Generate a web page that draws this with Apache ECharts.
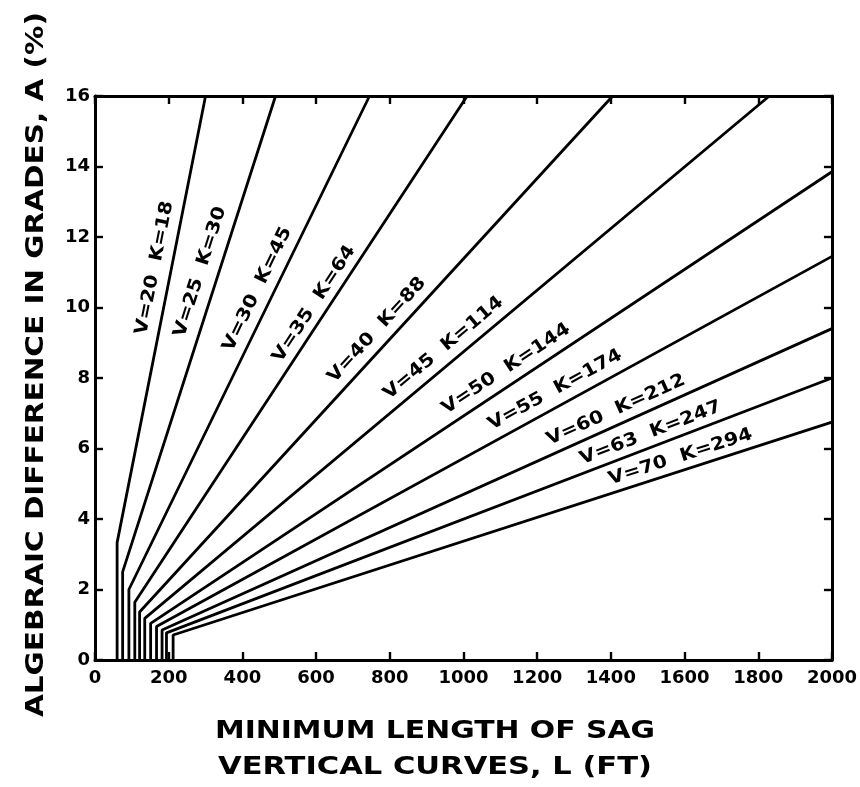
<!DOCTYPE html>
<html><head><meta charset="utf-8">
<script src="https://cdn.jsdelivr.net/npm/echarts@6/dist/echarts.min.js"></script>
<style>html,body{margin:0;padding:0;background:#fff}#c{width:860px;height:787px}</style>
</head><body><div id="c"></div>
<script>
// ---- data ----
const speedsV   = [20, 25, 30, 35, 40, 45, 50, 55, 60, 63, 70];
const kValues   = [18, 30, 45, 64, 88, 114, 144, 174, 212, 247, 294];
const minLength = [60, 75, 92, 108, 121, 135, 151, 167, 182, 194, 212];   // vertical leg (ft)
const kneeA     = [3.33, 2.5, 2.0, 1.64, 1.36, 1.18, 1.04, 0.95, 0.85, 0.77, 0.71];
const endL      = [300, 490, 745, 1010, 1405, 1830, 2000, 2000, 2000, 2000, 2000];
const endA      = [16, 16, 16, 16, 16, 16, 13.85, 11.45, 9.4, 8.0, 6.75];
const xTicks    = [0, 200, 400, 600, 800, 1000, 1200, 1400, 1600, 1800, 2000];
const yTicks    = [0, 2, 4, 6, 8, 10, 12, 14, 16];
const xTitle1 = 'MINIMUM LENGTH OF SAG';
const xTitle2 = 'VERTICAL CURVES, L (FT)';
const yTitle  = 'ALGEBRAIC DIFFERENCE IN GRADES, A (%)';

// ---- layout (label anchor points in axis units) ----
const labelAnchorL = [162, 286, 441, 595, 765, 946, 1116, 1249, 1414, 1508, 1589];
const labelAnchorA = [11.12, 11.01, 10.52, 10.10, 9.36, 8.85, 8.26, 7.66, 7.09, 6.44, 5.76];

const FONT = '"DejaVu Sans", "Liberation Sans", sans-serif';
const chart = echarts.init(document.getElementById('c'), null, {renderer: 'canvas'});

const series = speedsV.map((v, i) => ({
  type: 'line', name: 'V=' + v, symbol: 'none', silent: true, animation: false,
  lineStyle: {color: '#000', width: 2.8},
  data: [[minLength[i], 0], [minLength[i], kneeA[i]], [endL[i], endA[i]]]
}));

const xInt = xTicks[1] - xTicks[0], yInt = yTicks[1] - yTicks[0];
const axisCommon = {
  type: 'value', splitLine: {show: false},
  axisLine: {show: true, onZero: false, lineStyle: {color: '#000', width: 3}},
  axisTick: {show: true, inside: true, length: 8, lineStyle: {color: '#000', width: 2.4}}
};
const plain = v => String(v);
chart.setOption({
  animation: false,
  backgroundColor: '#fff',
  grid: {left: 95, right: 25, top: 96, bottom: 127, containLabel: false},
  xAxis: [
    Object.assign({}, axisCommon, {position: 'bottom', min: xTicks[0], max: xTicks[xTicks.length-1], interval: xInt,
      axisLabel: {color: '#000', fontFamily: FONT, fontWeight: 'bold', fontSize: 18, margin: 9, formatter: plain}}),
    Object.assign({}, axisCommon, {position: 'top', min: xTicks[0], max: xTicks[xTicks.length-1], interval: xInt,
      axisLabel: {show: false}})
  ],
  yAxis: [
    Object.assign({}, axisCommon, {position: 'left', min: yTicks[0], max: yTicks[yTicks.length-1], interval: yInt,
      axisLabel: {color: '#000', fontFamily: FONT, fontWeight: 'bold', fontSize: 18, margin: 5, formatter: plain}}),
    Object.assign({}, axisCommon, {position: 'right', min: yTicks[0], max: yTicks[yTicks.length-1], interval: yInt,
      axisLabel: {show: false}})
  ],
  series: series
});

// text measuring for width fitting
const mctx = document.createElement('canvas').getContext('2d');
function textW(t, size) { mctx.font = 'bold ' + size + 'px ' + FONT; return mctx.measureText(t).width; }

const graphics = [];
// curve labels
const LBL_SIZE = 18;
const refLabel = 'V=' + speedsV[10] + '  K=' + kValues[10];
const lblScale = 150 / textW(refLabel, LBL_SIZE);
speedsV.forEach((v, i) => {
  const p0 = chart.convertToPixel({gridIndex: 0}, [minLength[i], kneeA[i]]);
  const p1 = chart.convertToPixel({gridIndex: 0}, [endL[i], endA[i]]);
  const ang = Math.atan2(p0[1] - p1[1], p1[0] - p0[0]);
  const c = chart.convertToPixel({gridIndex: 0}, [labelAnchorL[i], labelAnchorA[i]]);
  graphics.push({type: 'text', x: c[0], y: c[1], rotation: ang, scaleX: lblScale, silent: true,
    style: {text: 'V=' + v + '  K=' + kValues[i], fill: '#000', fontFamily: FONT, fontWeight: 'bold',
      fontSize: LBL_SIZE, align: 'center', verticalAlign: 'middle'}});
});
// axis titles
function title(t, x, y, size, width, rot) {
  graphics.push({type: 'text', x: x, y: y, rotation: rot || 0, scaleX: width / textW(t, size), silent: true,
    style: {text: t, fill: '#000', fontFamily: FONT, fontWeight: 'bold', fontSize: size,
      align: 'center', verticalAlign: 'middle'}});
}
title(xTitle1, 435, 731, 25, 440);
title(xTitle2, 435, 767, 25, 434);
title(yTitle, 36.5, 364.5, 24, 705, Math.PI / 2);
chart.setOption({graphic: graphics});
</script></body></html>
